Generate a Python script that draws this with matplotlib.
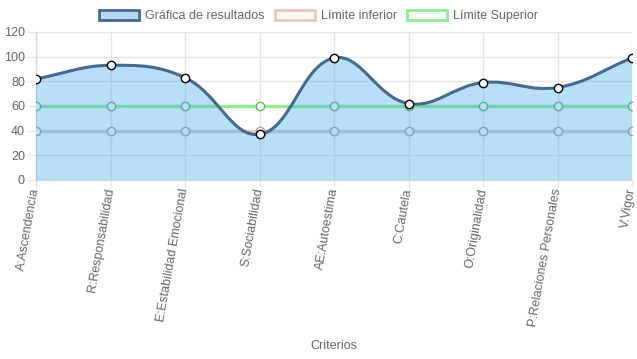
import numpy as np
import matplotlib
matplotlib.use("Agg")
import matplotlib.pyplot as plt
from matplotlib.path import Path
from matplotlib.patches import PathPatch, Patch

plt.rcParams['font.family'] = ['Liberation Sans', 'DejaVu Sans']

criterios = ["A:Ascendencia", "R:Responsabilidad", "E:Estabilidad Emocional",
             "S:Sociabilidad", "AE:Autoestima", "C:Cautela", "O:Originalidad",
             "P:Relaciones Personales", "V:Vigor"]
resultados = [82, 93, 83, 37, 99, 62, 79, 75, 99]
limite_inferior = [40, 40, 40, 40, 40, 40, 40, 40, 40]
limite_superior = [60, 60, 60, 60, 60, 60, 60, 60, 60]
y_ticks = [0, 20, 40, 60, 80, 100, 120]

linea = '#45698f'
relleno = (54 / 255, 162 / 255, 235 / 255, 0.35)
c_inf = '#e6c8be'
c_sup = '#90ee90'
gris = '#666666'
rejilla = '#e6e6e6'

W, H = 637, 359
fig = plt.figure(figsize=(W / 100, H / 100), dpi=100)
ax = fig.add_axes([36 / W, 1 - 180 / H, (632 - 36) / W, 148 / H])

n = len(criterios)
xs = np.arange(n)
sx = (632 - 36) / (n - 1)   # px por categoria
sy = 148 / 120              # px por unidad


def spline_path(x, y, t=0.4, close_to=None):
    # curva tipo Chart.js (tension 0.4)
    px = np.asarray(x, float) * sx
    py = np.asarray(y, float) * sy
    cps = []
    for i in range(len(px)):
        a = max(i - 1, 0)
        b = min(i + 1, len(px) - 1)
        d01 = np.hypot(px[i] - px[a], py[i] - py[a])
        d12 = np.hypot(px[b] - px[i], py[b] - py[i])
        tot = d01 + d12
        s01 = d01 / tot if tot else 0
        s12 = d12 / tot if tot else 0
        fa, fb = t * s01, t * s12
        dx, dy = px[b] - px[a], py[b] - py[a]
        cps.append(((px[i] - fa * dx, py[i] - fa * dy),
                    (px[i] + fb * dx, py[i] + fb * dy)))
    verts = [(px[0], py[0])]
    codes = [Path.MOVETO]
    for i in range(len(px) - 1):
        verts += [cps[i][1], cps[i + 1][0], (px[i + 1], py[i + 1])]
        codes += [Path.CURVE4] * 3
    if close_to is not None:
        verts += [(px[-1], close_to * sy), (px[0], close_to * sy), (px[0], py[0])]
        codes += [Path.LINETO, Path.LINETO, Path.CLOSEPOLY]
    verts = [(vx / sx, vy / sy) for vx, vy in verts]
    return Path(verts, codes)


# limites (debajo del relleno)
ax.plot(xs, limite_inferior, color=c_inf, lw=2.4, zorder=2, solid_capstyle='butt')
ax.plot(xs, limite_inferior, 'o', ms=6, mfc='white', mec='#b0a098', mew=1, zorder=2)
ax.plot(xs, limite_superior, color=c_sup, lw=2.4, zorder=2, solid_capstyle='butt')
ax.plot(xs, limite_superior, 'o', ms=6, mfc='white', mec='#70b070', mew=1, zorder=2)

ax.add_patch(PathPatch(spline_path(xs, resultados, close_to=0), facecolor=relleno,
                       edgecolor='none', zorder=3))
ax.add_patch(PathPatch(spline_path(xs, resultados), facecolor='none', edgecolor=linea,
                       lw=2.2, zorder=4))
ax.plot(xs, resultados, 'o', ms=6, mfc='white', mec='black', mew=1, zorder=5)

ax.set_xlim(0, n - 1)
ax.set_ylim(0, 120)
ax.set_yticks(y_ticks)
ax.set_xticks(xs)
ax.set_xticklabels(criterios, rotation=80, ha='right', va='center',
                   rotation_mode='anchor', fontsize=9, color=gris)
ax.tick_params(axis='y', labelsize=9, labelcolor=gris, length=6, width=1,
               color=rejilla, pad=2)
ax.tick_params(axis='x', length=5, width=1, color=rejilla, pad=1)
ax.grid(True, color=rejilla, lw=1, zorder=0)
ax.set_axisbelow(True)
for s in ['top', 'right']:
    ax.spines[s].set_visible(False)
for s in ['left', 'bottom']:
    ax.spines[s].set_color('#d9d9d9')
    ax.spines[s].set_linewidth(1)
    ax.spines[s].set_zorder(1)

fig.text((36 + 632) / 2 / W, 1 - 346 / H, "Criterios", ha='center', va='center',
         fontsize=9, color=gris)

handles = [
    Patch(facecolor=(185 / 255, 216 / 255, 247 / 255), edgecolor=linea, lw=2),
    Patch(facecolor='#fdf8f6', edgecolor=c_inf, lw=2),
    Patch(facecolor='white', edgecolor=c_sup, lw=2),
]
fig.legend(handles, ["Gráfica de resultados", "Límite inferior", "Límite Superior"],
           loc='center', bbox_to_anchor=(0.5, 1 - 16 / H), ncol=3, frameon=False,
           fontsize=9, labelcolor=gris, handlelength=3.2, handleheight=0.9,
           handletextpad=0.5, columnspacing=0.8, borderaxespad=0)

fig.savefig("out.png", dpi=100)
